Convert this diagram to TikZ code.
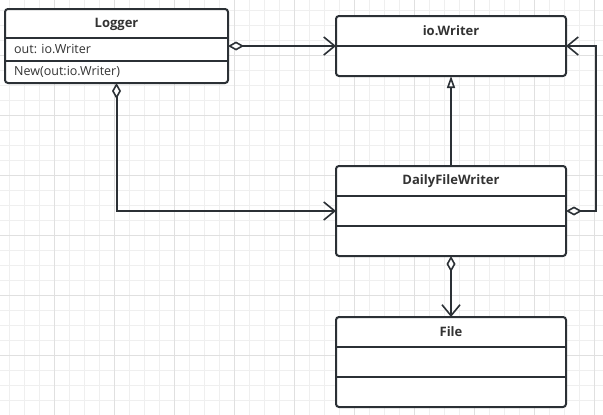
\documentclass[tikz,border=0pt]{standalone}
\usepackage{fontspec}
\setmainfont{Open Sans}
\usetikzlibrary{arrows.meta}
\definecolor{ln}{HTML}{2B3035}
\definecolor{tx}{HTML}{333333}
\definecolor{gminor}{HTML}{EFEFEF}
\definecolor{gmajor}{HTML}{E0E0E0}
\tikzset{
  umlbox/.style={draw=ln, line width=2pt, rounded corners=3pt, fill=white, inner sep=0pt, outer sep=0pt},
  sep/.style={draw=ln, line width=2pt},
  ttl/.style={text=tx, font=\fontsize{13}{15}\selectfont\bfseries, inner sep=0pt},
  mem/.style={text=tx, font=\fontsize{12.5}{15}\selectfont, inner sep=0pt, anchor=west},
  conn/.style={draw=ln, line width=2pt},
  aggS/.style={conn, {Diamond[open, fill=white, length=16pt, width=9pt, line width=1.6pt]}-{Straight Barb[length=11pt, width=18pt, line width=1.6pt]}},
  inh/.style={conn, -{Triangle[open, fill=white, length=12pt, width=8pt, line width=1.6pt]}}
}
\begin{document}
\begin{tikzpicture}[x=1pt,y=-1pt]
\useasboundingbox (0,0) rectangle (603,415);
\fill[white] (0,0) rectangle (603,415);
% grid
\foreach \i in {0,...,39} {
  \draw[gminor, line width=1pt] ({9.5+15*\i},0) -- ({9.5+15*\i},415);
}
\foreach \j in {0,...,27} {
  \draw[gminor, line width=1pt] (0,{10+15*\j}) -- (603,{10+15*\j});
}
\foreach \i in {0,...,9} {
  \draw[gmajor, line width=1pt] ({54.5+60*\i},0) -- ({54.5+60*\i},415);
}
\foreach \j in {0,...,6} {
  \draw[gmajor, line width=1pt] (0,{55+60*\j}) -- (603,{55+60*\j});
}

% Logger
\node[umlbox, minimum width=223pt, minimum height=74pt] (logger) at (116.5,46) {};
\draw[sep] (5,38) -- (228,38);
\draw[sep] (5,61) -- (228,61);
\node[ttl] (loggerT) at (116.5,24) {Logger};
\node[mem] (loggerA) at (14,49.5) {out: io.Writer};
\node[mem] (loggerM) at (14,72) {New(out:io.Writer)};

% io.Writer
\node[umlbox, minimum width=230pt, minimum height=60pt] (iow) at (451,46) {};
\draw[sep] (336,46) -- (566,46);
\node[ttl] (iowT) at (451,31) {io.Writer};

% DailyFileWriter
\node[umlbox, minimum width=230pt, minimum height=90pt] (dfw) at (451,211) {};
\draw[sep] (336,196) -- (566,196);
\draw[sep] (336,226) -- (566,226);
\node[ttl] (dfwT) at (451,181) {DailyFileWriter};

% File
\node[umlbox, minimum width=230pt, minimum height=90pt] (file) at (451,362) {};
\draw[sep] (336,347) -- (566,347);
\draw[sep] (336,377) -- (566,377);
\node[ttl] (fileT) at (451,332) {File};

% connectors
\coordinate (rt) at (596,128);
\draw[aggS] (logger.east) -- (iow.west);
\draw[aggS] (logger.south) |- (dfw.west);
\draw[inh] (dfw.north) -- (iow.south);
\draw[aggS] (dfw.east) -| (rt) |- (iow.east);
\draw[aggS] (dfw.south) -- (file.north);
\end{tikzpicture}
\end{document}
